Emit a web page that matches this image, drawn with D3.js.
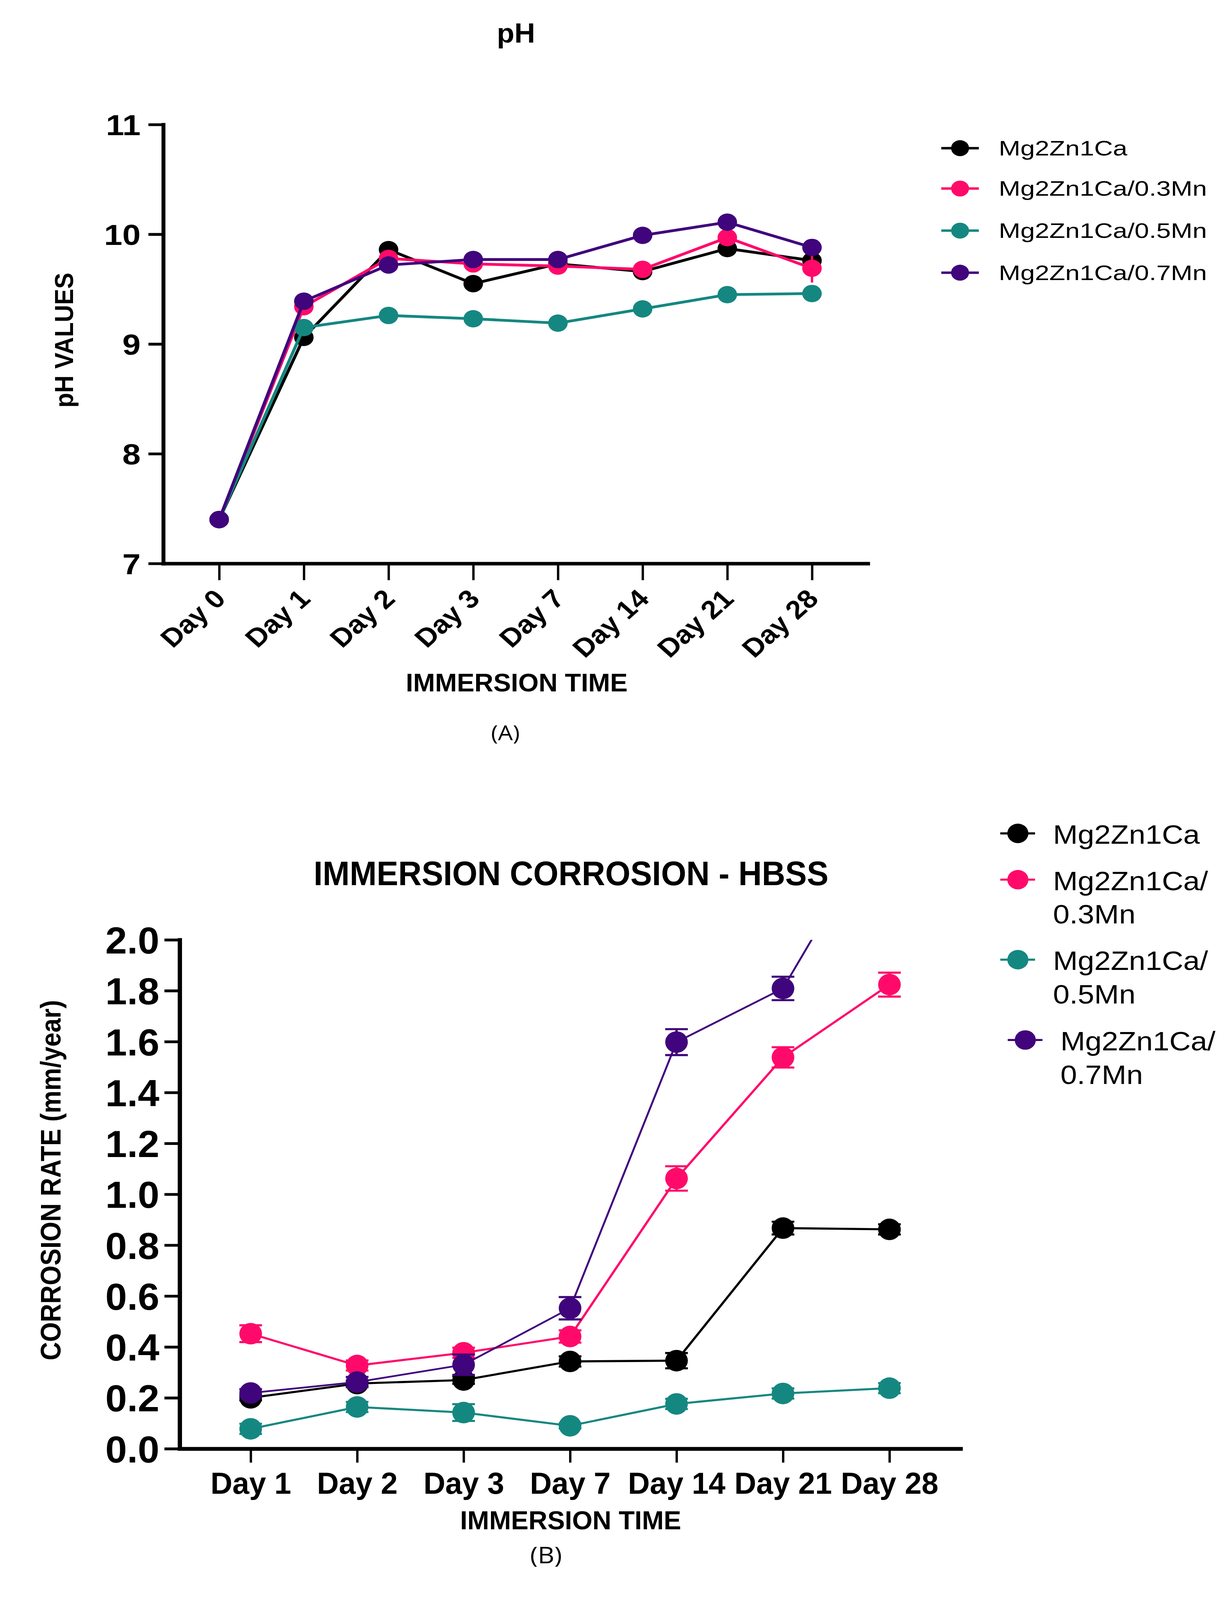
<!DOCTYPE html>
<html>
<head>
<meta charset="utf-8">
<script src="https://cdn.jsdelivr.net/npm/d3@7"></script>
<style>
  html, body { margin: 0; padding: 0; background: #fff; overflow: hidden; }
  svg { display: block; }
  text { font-family: "Liberation Sans", Arial, sans-serif; fill: #000; }
</style>
</head>
<body>
<script>
// ---- data: pH chart
const phDays = ["Day 0", "Day 1", "Day 2", "Day 3", "Day 7", "Day 14", "Day 21", "Day 28"];
const phTicks = [7, 8, 9, 10, 11];
const phMg2Zn1Ca = [7.40, 9.06, 9.86, 9.55, 9.73, 9.66, 9.87, 9.76];
const phMn03 = [7.40, 9.34, 9.78, 9.73, 9.71, 9.68, 9.97, 9.69];
const phMn05 = [7.40, 9.15, 9.26, 9.23, 9.19, 9.32, 9.45, 9.46];
const phMn07 = [7.40, 9.39, 9.72, 9.77, 9.77, 9.99, 10.11, 9.88];
const phMn03Err = [0, 0, 0, 0, 0, 0, 0, 0.13];

// ---- data: corrosion chart
const crDays = ["Day 1", "Day 2", "Day 3", "Day 7", "Day 14", "Day 21", "Day 28"];
const crTicks = [0, 0.2, 0.4, 0.6, 0.8, 1.0, 1.2, 1.4, 1.6, 1.8, 2.0];
const crMg2Zn1Ca = [0.200, 0.256, 0.270, 0.343, 0.346, 0.867, 0.862];
const crMg2Zn1CaErr = [0.010, 0.010, 0.015, 0.020, 0.030, 0.025, 0.020];
const crMn03 = [0.452, 0.327, 0.377, 0.441, 1.062, 1.538, 1.824];
const crMn03Err = [0.033, 0.020, 0.020, 0.024, 0.048, 0.040, 0.047];
const crMn05 = [0.078, 0.164, 0.142, 0.090, 0.176, 0.217, 0.238];
const crMn05Err = [0.020, 0.020, 0.033, 0.010, 0.020, 0.020, 0.020];
const crMn07 = [0.219, 0.262, 0.330, 0.552, 1.598, 1.809, 2.520];
const crMn07Err = [0.015, 0.020, 0.040, 0.044, 0.051, 0.046, 0.050];

const seriesNames = ["Mg2Zn1Ca", "Mg2Zn1Ca/0.3Mn", "Mg2Zn1Ca/0.5Mn", "Mg2Zn1Ca/0.7Mn"];
const legendLinesB = [["Mg2Zn1Ca"], ["Mg2Zn1Ca/", "0.3Mn"], ["Mg2Zn1Ca/", "0.5Mn"], ["Mg2Zn1Ca/", "0.7Mn"]];
const colors = ["#000000", "#ff0a6a", "#158781", "#40047c"];

// the drawing is laid out on a 3144 x 4600 board and stretched to the window
const W = 3144, H = 4600;
const svg = d3.select("body").append("svg")
  .attr("width", window.innerWidth || W)
  .attr("height", window.innerHeight || H)
  .attr("viewBox", `0 0 ${W} ${H}`)
  .attr("preserveAspectRatio", "none");

function fitText (sel, width) {
  sel.attr("textLength", width).attr("lengthAdjust", "spacingAndGlyphs");
}

function squeeze (sel, k) {
  sel.each(function () {
    const l = this.getComputedTextLength();
    d3.select(this).attr("textLength", l * k).attr("lengthAdjust", "spacingAndGlyphs");
  });
}

function styleAxis (g, lineWidth, tickWidth) {
  g.select(".domain").attr("stroke", "#000").attr("stroke-width", lineWidth).attr("stroke-linecap", "square");
  g.selectAll(".tick line").attr("stroke", "#000").attr("stroke-width", tickWidth);
}

/**
 * chart A : pH
 */
const xA = d3.scalePoint().domain(phDays).range([418, 2222]).padding(0.66);
const yA = d3.scaleLinear().domain([7, 11]).range([1620, 358]);

const gA = svg.append("g").attr("class", "chartA");

const yAxisA = gA.append("g")
  .attr("transform", "translate(418,0)")
  .call(d3.axisLeft(yA).tickValues(phTicks).tickSize(38).tickSizeOuter(0).tickPadding(20).tickFormat(d3.format("d")));
styleAxis(yAxisA, 10, 8);
yAxisA.selectAll(".tick text")
  .attr("font-size", 84).attr("font-weight", "bold").attr("dy", "0.36em");

const xAxisA = gA.append("g")
  .attr("transform", "translate(0,1620)")
  .call(d3.axisBottom(xA).tickSize(48).tickSizeOuter(0));
styleAxis(xAxisA, 10, 6);
xAxisA.selectAll(".tick text")
  .attr("font-size", 74)
  .attr("font-weight", "bold")
  .attr("text-anchor", "end")
  .attr("x", 0).attr("y", 0).attr("dy", 0)
  .attr("transform", "translate(20,106) rotate(-45)");

const phSeries = [phMg2Zn1Ca, phMn03, phMn05, phMn07];
const phErrors = [null, phMn03Err, null, null];
const lineA = d3.line().x((d, i) => xA(phDays[i])).y(d => yA(d));

phSeries.forEach((vals, s) => {
  const g = gA.append("g").attr("class", "series");
  if (phErrors[s]) {
    g.selectAll("line.err")
      .data(vals.map((v, i) => ({ v, e: phErrors[s][i], day: phDays[i] })).filter(d => d.e > 0))
      .enter().append("line")
        .attr("class", "err")
        .attr("x1", d => xA(d.day)).attr("x2", d => xA(d.day))
        .attr("y1", d => yA(d.v - d.e)).attr("y2", d => yA(d.v + d.e))
        .attr("stroke", colors[s]).attr("stroke-width", 6);
  }
  g.append("path")
    .attr("d", lineA(vals))
    .attr("fill", "none")
    .attr("stroke", colors[s])
    .attr("stroke-width", 8);
  g.selectAll("circle")
    .data(vals)
    .enter().append("circle")
      .attr("cx", (d, i) => xA(phDays[i]))
      .attr("cy", d => yA(d))
      .attr("r", 25)
      .attr("fill", colors[s]);
});

gA.append("text")
  .attr("x", 1321).attr("y", 122)
  .attr("text-anchor", "middle").attr("font-size", 80).attr("font-weight", "bold")
  .text("pH")
  .call(fitText, 98);

gA.append("text")
  .attr("transform", "translate(187,978) rotate(-90)")
  .attr("text-anchor", "middle").attr("font-size", 66).attr("font-weight", "bold")
  .text("pH VALUES")
  .call(fitText, 388);

gA.append("text")
  .attr("x", 1323).attr("y", 1988)
  .attr("text-anchor", "middle").attr("font-size", 72).attr("font-weight", "bold")
  .text("IMMERSION TIME")
  .call(fitText, 568);

gA.append("text")
  .attr("x", 1294).attr("y", 2128)
  .attr("text-anchor", "middle").attr("font-size", 60)
  .style("font-family", "'Open Sans', 'Liberation Sans', sans-serif")
  .text("(A)");

// legend A
const legA = gA.append("g").attr("class", "legend");
const legARows = [426, 542, 663, 784];
seriesNames.forEach((name, s) => {
  const row = legA.append("g").attr("transform", `translate(2458,${legARows[s]})`);
  row.append("line").attr("x1", -48).attr("x2", 48).attr("stroke", colors[s]).attr("stroke-width", 7);
  row.append("circle").attr("r", 23).attr("fill", colors[s]);
  row.append("text")
    .attr("x", 99).attr("y", 21)
    .attr("font-size", 60)
    .text(name)
    .call(squeeze, 1.11);
});

/**
 * chart B : immersion corrosion
 */
const xB = d3.scalePoint().domain(crDays).range([460, 2459]).padding(0.667);
const yB = d3.scaleLinear().domain([0, 2]).range([4165, 2702]);

const gB = svg.append("g").attr("class", "chartB");

svg.append("defs").append("clipPath").attr("id", "clipB")
  .append("rect").attr("x", 400).attr("y", yB(2)).attr("width", 2100).attr("height", yB(0) - yB(2) + 100);

const yAxisB = gB.append("g")
  .attr("transform", "translate(460,0)")
  .call(d3.axisLeft(yB).tickValues(crTicks).tickSize(39).tickSizeOuter(0).tickPadding(13).tickFormat(d3.format(".1f")));
styleAxis(yAxisB, 11, 8);
yAxisB.selectAll(".tick text")
  .attr("font-size", 108).attr("font-weight", "bold").attr("dy", "0.36em")
  .call(squeeze, 0.92);

const xAxisB = gB.append("g")
  .attr("transform", "translate(0,4165)")
  .call(d3.axisBottom(xB).tickSize(40).tickSizeOuter(0));
styleAxis(xAxisB, 11, 6);
xAxisB.selectAll(".tick text")
  .attr("font-size", 88).attr("font-weight", "bold")
  .attr("y", 130).attr("dy", 0)
  .call(squeeze, 0.88);

const crSeries = [crMg2Zn1Ca, crMn03, crMn05, crMn07];
const crErrors = [crMg2Zn1CaErr, crMn03Err, crMn05Err, crMn07Err];
const lineB = d3.line().x((d, i) => xB(crDays[i])).y(d => yB(d));
const plotB = gB.append("g").attr("clip-path", "url(#clipB)");

crSeries.forEach((vals, s) => {
  const g = plotB.append("g").attr("class", "series");
  const pts = vals.map((v, i) => ({ v, e: crErrors[s][i], day: crDays[i] }));
  g.append("path")
    .attr("d", lineB(vals))
    .attr("fill", "none")
    .attr("stroke", colors[s])
    .attr("stroke-width", s === 3 ? 5 : 6);
  const eb = g.selectAll("g.err").data(pts).enter().append("g").attr("class", "err")
    .attr("stroke", colors[s]).attr("stroke-width", 6);
  eb.append("line")
    .attr("x1", d => xB(d.day)).attr("x2", d => xB(d.day))
    .attr("y1", d => yB(d.v - d.e)).attr("y2", d => yB(d.v + d.e));
  eb.append("line")
    .attr("x1", d => xB(d.day) - 29).attr("x2", d => xB(d.day) + 29)
    .attr("y1", d => yB(d.v + d.e)).attr("y2", d => yB(d.v + d.e));
  eb.append("line")
    .attr("x1", d => xB(d.day) - 29).attr("x2", d => xB(d.day) + 29)
    .attr("y1", d => yB(d.v - d.e)).attr("y2", d => yB(d.v - d.e));
  g.selectAll("ellipse")
    .data(pts)
    .enter().append("ellipse")
      .attr("cx", d => xB(d.day))
      .attr("cy", d => yB(d.v))
      .attr("rx", 29).attr("ry", 31)
      .attr("fill", colors[s]);
});

gB.append("text")
  .attr("x", 1462).attr("y", 2545)
  .attr("text-anchor", "middle").attr("font-size", 98).attr("font-weight", "bold")
  .text("IMMERSION CORROSION - HBSS")
  .call(fitText, 1318);

gB.append("text")
  .attr("transform", "translate(155,3393) rotate(-90)")
  .attr("text-anchor", "middle").attr("font-size", 72).attr("font-weight", "bold")
  .text("CORROSION RATE (mm/year)")
  .call(fitText, 1036);

gB.append("text")
  .attr("x", 1461).attr("y", 4397)
  .attr("text-anchor", "middle").attr("font-size", 74).attr("font-weight", "bold")
  .text("IMMERSION TIME")
  .call(fitText, 566);

gB.append("text")
  .attr("x", 1398).attr("y", 4494)
  .attr("text-anchor", "middle").attr("font-size", 66)
  .style("font-family", "'Open Sans', 'Liberation Sans', sans-serif")
  .text("(B)");

// legend B
const legB = gB.append("g").attr("class", "legend");
const legBRows = [2396, 2529, 2759, 2990];
const legBShift = [0, 0, 0, 19];
legendLinesB.forEach((lines, s) => {
  const row = legB.append("g").attr("transform", `translate(${2606 + legBShift[s]},${legBRows[s]})`);
  row.append("line").attr("x1", -45).attr("x2", 44).attr("stroke", colors[s]).attr("stroke-width", 6);
  row.append("ellipse").attr("rx", 27).attr("ry", 28).attr("fill", colors[s]);
  const t = row.append("text").attr("x", 90).attr("y", 30).attr("font-size", 76);
  t.selectAll("tspan")
    .data(lines)
    .enter().append("tspan")
      .attr("x", 90)
      .attr("dy", (d, i) => i === 0 ? 0 : 96)
      .text(d => d);
});
</script>
</body>
</html>
